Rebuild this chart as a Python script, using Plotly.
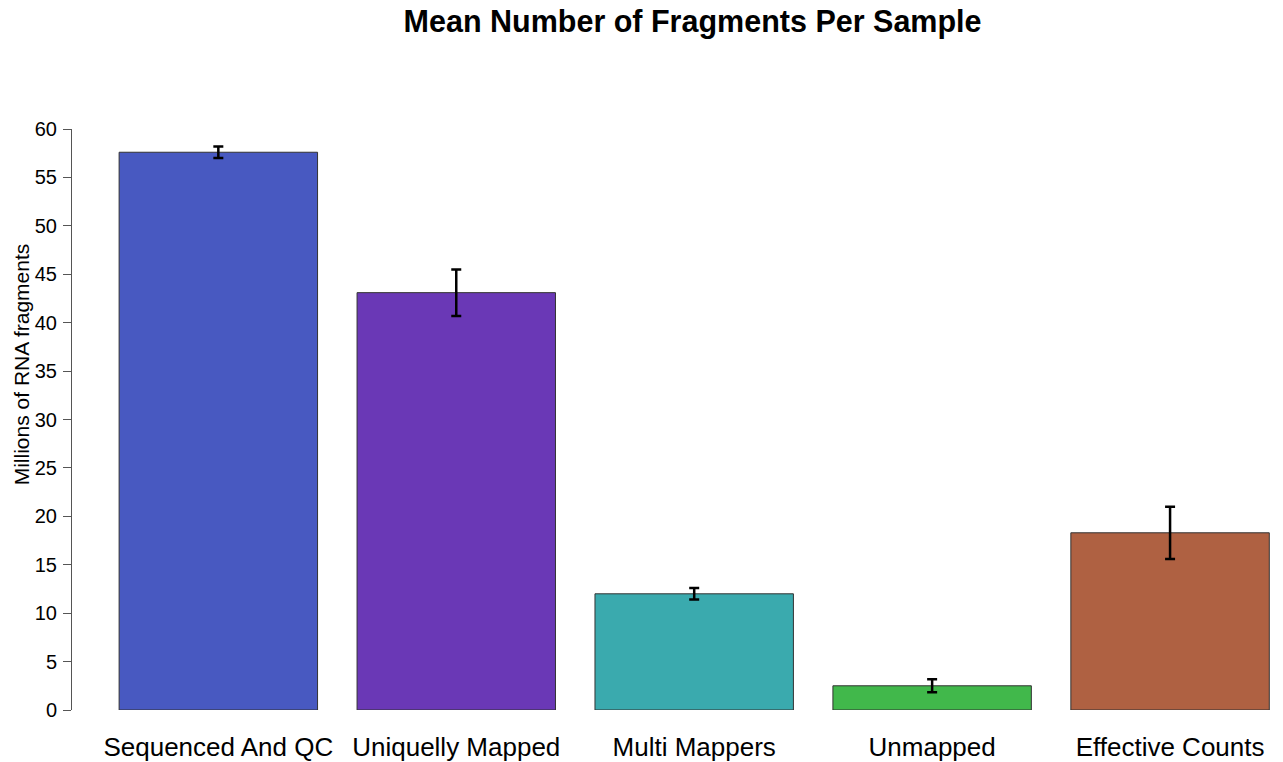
import plotly.graph_objects as go

categories = ["Sequenced And QC", "Uniquelly Mapped", "Multi Mappers", "Unmapped", "Effective Counts"]
means = [57.6, 43.1, 12.0, 2.5, 18.3]
errors = [0.6, 2.4, 0.6, 0.67, 2.7]
colors = ["#4859C1", "#6A38B6", "#3AAAAE", "#41B84B", "#AF6142"]
y_ticks = [0, 5, 10, 15, 20, 25, 30, 35, 40, 45, 50, 55, 60]

# page body has an 8px margin; figure sized/margined so plot area lands at x 72-1270, y 129-710
W, H = 1275, 754

fig = go.Figure(go.Bar(
    x=categories, y=means,
    marker=dict(color=colors, line=dict(color="#333333", width=1)),
    width=0.834,
    error_y=dict(type="data", array=errors, visible=True, color="black", thickness=2.5, width=5),
))

fig.update_layout(
    width=W, height=H,
    paper_bgcolor="white", plot_bgcolor="white",
    margin=dict(l=64, r=13, t=121, b=52),
    font=dict(family="Arial, Liberation Sans, sans-serif", color="black"),
    title=dict(text="<b>Mean Number of Fragments Per Sample</b>", x=0.518, xref="paper", xanchor="center",
               y=1 - 13 / H, yref="container", yanchor="middle", font=dict(size=30.5)),
    showlegend=False,
    annotations=[dict(text="Millions of RNA fragments", textangle=-90, xref="paper", yref="paper",
                      x=0, y=0.595, xshift=-51, xanchor="center", yanchor="middle",
                      showarrow=False, font=dict(size=21))],
)
fig.update_xaxes(range=[-0.615, 4.42], showline=False, showgrid=False, ticks="", automargin=False,
                 tickfont=dict(size=26), ticklabelstandoff=19)
fig.update_yaxes(range=[0, 60], tickvals=y_ticks, showline=True, linecolor="#555555", linewidth=1,
                 ticks="outside", ticklen=8, tickcolor="#555555", showgrid=False, zeroline=False,
                 automargin=False, tickfont=dict(size=20), ticklabelstandoff=2)

fig.write_html("out.html")
